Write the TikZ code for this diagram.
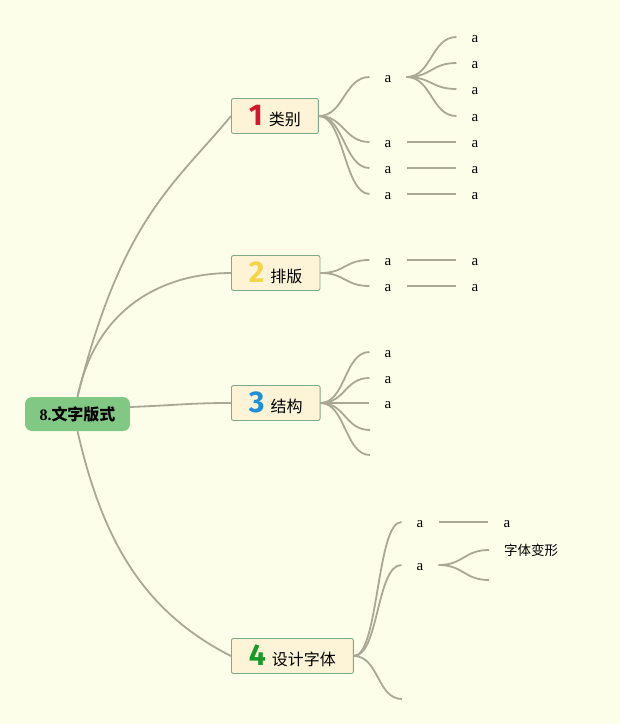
\documentclass[tikz,border=0pt]{standalone}
\usepackage{fontspec}
\setmainfont{Liberation Serif}
\newfontfamily\cjk{Noto Sans CJK SC}
\newfontfamily\numfont{Fira Sans}
\usetikzlibrary{positioning}

\definecolor{paper}{HTML}{FDFEEA}
\definecolor{linkgray}{HTML}{A8A894}
\definecolor{rootgreen}{HTML}{80C883}
\definecolor{topicfill}{HTML}{FDF3D6}
\definecolor{topicline}{HTML}{7FAB8A}
\definecolor{numred}{HTML}{D4182D}
\definecolor{numyellow}{HTML}{F5D547}
\definecolor{numblue}{HTML}{1F8FD6}
\definecolor{numgreen}{HTML}{1A9A2A}

\newcommand{\tnum}[2]{{\numfont\bfseries\fontsize{30}{30}\selectfont\color{#1}#2}\hspace{6pt}}

\begin{document}
\begin{tikzpicture}[
            x = 1pt,
            y = -1pt,
            link/.style = {draw = linkgray, line width = 1.8pt},
            twig/.style = {to path = {.. controls +(25,0) and +(-25,0) .. (\tikztotarget)}}
        ]

        \tikzstyle{topic}=[
            draw = topicline,
            line width = 0.9pt,
            fill = topicfill,
            rounded corners = 2pt,
            minimum height = 35pt,
            inner xsep = 17.5pt,
            anchor = west,
            font = \cjk\fontsize{16}{16}\selectfont
        ]
        \tikzset{leaf/.style={inner xsep=15pt, inner ysep=0pt, text height=11pt, text depth=0pt, font=\fontsize{15}{15}\selectfont}}

        \fill[paper] (0,0) rectangle (620,724);
        \useasboundingbox (0,0) rectangle (620,724);

        \node[fill=rootgreen, rounded corners=7pt, minimum width=105pt, minimum height=34pt, inner sep=0pt,
              font=\fontsize{16}{16}\selectfont] (root) at (77.5,414) {\textbf{8.}{\cjk\bfseries 文字版式}};

        \node[topic] (cat) at (231,116) {\tnum{numred}{1}类别};
        \node[topic] (lay) at (231,273) {\tnum{numyellow}{2}排版};
        \node[topic] (struct) at (231,403) {\tnum{numblue}{3}结构};
        \node[topic] (design) at (231,656) {\tnum{numgreen}{4}设计字体};

        % main branches
        \path[link] (root.north) .. controls (122,218) and (174,185) .. (cat.west);
        \path[link] (root.north) .. controls (98,300) and (172,273) .. (lay.west);
        \path[link] ([yshift=7pt]root.east) .. controls (180,405) and (190,403) .. (struct.west);
        \path[link] (root.south) .. controls (102,538) and (142,611) .. (design.west);

        % 类别
        \node[leaf] (cat1) at (388,77) {a};
        \node[leaf] (cat2) at (388,142) {a};
        \node[leaf] (cat3) at (388,168) {a};
        \node[leaf] (cat4) at (388,194) {a};
        \node[leaf] (cat1a) at (475,37) {a};
        \node[leaf] (cat1b) at (475,63) {a};
        \node[leaf] (cat1c) at (475,89) {a};
        \node[leaf] (cat1d) at (475,116) {a};
        \node[leaf] (cat2a) at (475,142) {a};
        \node[leaf] (cat3a) at (475,168) {a};
        \node[leaf] (cat4a) at (475,194) {a};

        \path[link] (cat.east) edge[twig] (cat1.west);
        \path[link] (cat.east) edge[twig] (cat2.west);
        \path[link] (cat.east) edge[twig] (cat3.west);
        \path[link] (cat.east) edge[twig] (cat4.west);
        \path[link] (cat1.east) edge[twig] (cat1a.west);
        \path[link] (cat1.east) edge[twig] (cat1b.west);
        \path[link] (cat1.east) edge[twig] (cat1c.west);
        \path[link] (cat1.east) edge[twig] (cat1d.west);
        \path[link] (cat2.east) edge (cat2a.west);
        \path[link] (cat3.east) edge (cat3a.west);
        \path[link] (cat4.east) edge (cat4a.west);

        % 排版
        \node[leaf] (lay1) at (388,260) {a};
        \node[leaf] (lay2) at (388,286) {a};
        \node[leaf] (lay1a) at (475,260) {a};
        \node[leaf] (lay2a) at (475,286) {a};

        \path[link] (lay.east) edge[twig] (lay1.west);
        \path[link] (lay.east) edge[twig] (lay2.west);
        \path[link] (lay1.east) edge (lay1a.west);
        \path[link] (lay2.east) edge (lay2a.west);

        % 结构
        \node[leaf] (struct1) at (388,352) {a};
        \node[leaf] (struct2) at (388,378) {a};
        \node[leaf] (struct3) at (388,403) {a};
        \coordinate (struct4) at (370,430);
        \coordinate (struct5) at (370,455);

        \path[link] (struct.east) edge[twig] (struct1.west);
        \path[link] (struct.east) edge[twig] (struct2.west);
        \path[link] (struct.east) edge[twig] (struct3.west);
        \path[link] (struct.east) edge[twig] (struct4);
        \path[link] (struct.east) edge[twig] (struct5);

        % 设计字体
        \node[leaf] (design1) at (420,522) {a};
        \node[leaf] (design2) at (420,565) {a};
        \coordinate (design3) at (402,699);
        \node[leaf] (design1a) at (507,522) {a};
        \node[leaf, anchor=west, font=\cjk\fontsize{13.5}{13.5}\selectfont] (design2a) at (489,550) {字体变形};
        \coordinate (design2b) at (489,580);

        \path[link] (design.east) edge[twig] (design1.west);
        \path[link] (design.east) edge[twig] (design2.west);
        \path[link] (design.east) edge[twig] (design3);
        \path[link] (design1.east) edge (design1a.west);
        \path[link] (design2.east) edge[twig] (design2a.west);
        \path[link] (design2.east) edge[twig] (design2b);

    \end{tikzpicture}
\end{document}
